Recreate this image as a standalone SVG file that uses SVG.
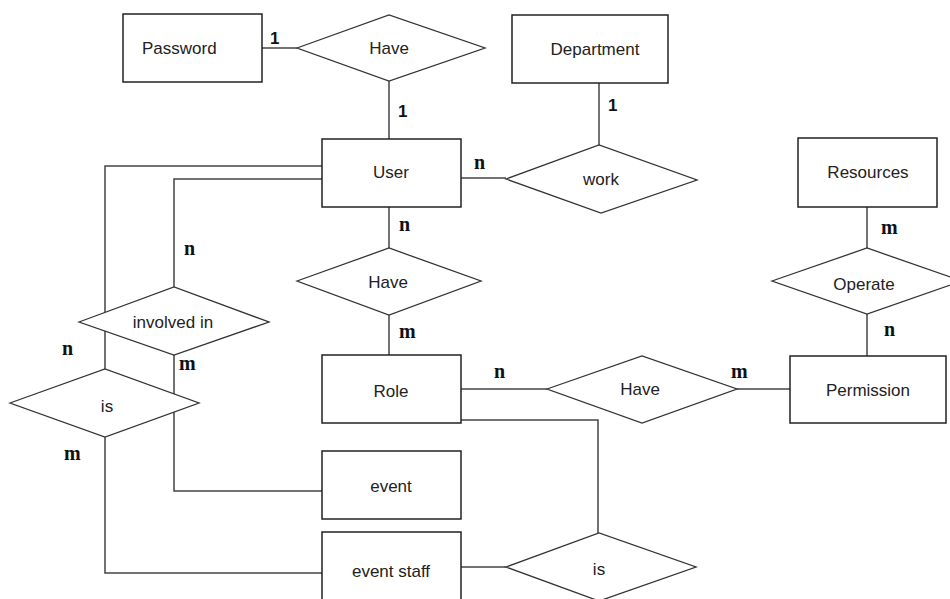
<svg xmlns="http://www.w3.org/2000/svg" width="950" height="599" viewBox="0 0 950 599">
<style>
.bg{fill:#ffffff}
.ent{fill:#ffffff;stroke:#222;stroke-width:1.5}
.rel{fill:#ffffff;stroke:#333;stroke-width:1.3}
.ln{fill:none;stroke:#444;stroke-width:1.5}
.t{font-family:"Liberation Sans",Arial,sans-serif;font-size:17px;fill:#222;text-anchor:middle}
.one{font-family:"Liberation Sans",Arial,sans-serif;font-size:17px;font-weight:bold;fill:#111}
.card{font-family:"Liberation Serif","Times New Roman",serif;font-size:20px;font-weight:bold;fill:#111}
</style>
<rect class="bg" x="0" y="0" width="950" height="599"/>
<g id="connectors">
<polyline class="ln" points="262,48 297,48"/>
<polyline class="ln" points="389,81 389,139"/>
<polyline class="ln" points="599,83 599,145"/>
<polyline class="ln" points="461,178 506,178"/>
<polyline class="ln" points="389,207 389,248"/>
<polyline class="ln" points="389,315 389,355"/>
<polyline class="ln" points="461,389 547,389"/>
<polyline class="ln" points="737,389 790,389"/>
<polyline class="ln" points="867,207 867,248"/>
<polyline class="ln" points="867,314 867,356"/>
<polyline class="ln" points="461,420 598,420 598,533"/>
<polyline class="ln" points="461,567 506,567"/>
<polyline class="ln" points="322,166 105,166 105,369"/>
<polyline class="ln" points="322,179 174,179 174,287"/>
<polyline class="ln" points="174,355 174,491 322,491"/>
<polyline class="ln" points="105,437 105,573 322,573"/>
</g>
<g id="password"><rect class="ent" x="123" y="14" width="139" height="68"/><text class="t" x="142" y="54" style="text-anchor:start">Password</text></g>
<g id="have1"><polygon class="rel" points="297,48 389,15 485,48 389,81"/><text class="t" x="389" y="54">Have</text></g>
<g id="department"><rect class="ent" x="512" y="15" width="156" height="68"/><text class="t" x="595" y="55">Department</text></g>
<g id="user"><rect class="ent" x="322" y="139" width="139" height="68"/><text class="t" x="391" y="178">User</text></g>
<g id="work"><polygon class="rel" points="506,179 599,145 697,180 601,213"/><text class="t" x="601" y="185">work</text></g>
<g id="have2"><polygon class="rel" points="297,281 389,248 481,281 389,315"/><text class="t" x="388" y="288">Have</text></g>
<g id="resources"><rect class="ent" x="798" y="138" width="139" height="69"/><text class="t" x="868" y="178">Resources</text></g>
<g id="operate"><polygon class="rel" points="772,281 867,248 962,281 867,314"/><text class="t" x="864" y="290">Operate</text></g>
<g id="role"><rect class="ent" x="322" y="355" width="139" height="68"/><text class="t" x="391" y="397">Role</text></g>
<g id="have3"><polygon class="rel" points="547,389 642,356 737,389 642,423"/><text class="t" x="640" y="395">Have</text></g>
<g id="permission"><rect class="ent" x="790" y="356" width="156" height="67"/><text class="t" x="868" y="396">Permission</text></g>
<g id="involved"><polygon class="rel" points="79,322 174,287 269,322 174,355"/><text class="t" x="173" y="328">involved in</text></g>
<g id="is1"><polygon class="rel" points="10,403 105,369 199,403 105,437"/><text class="t" x="107" y="412">is</text></g>
<g id="event"><rect class="ent" x="322" y="451" width="139" height="68"/><text class="t" x="391" y="492">event</text></g>
<g id="eventstaff"><rect class="ent" x="322" y="532" width="139" height="70"/><text class="t" x="391" y="577">event staff</text></g>
<g id="is2"><polygon class="rel" points="506,567 599,533 696,567 599,601"/><text class="t" x="599" y="575">is</text></g>
<g id="labels">
<text class="one" x="270" y="44">1</text>
<text class="one" x="398" y="117">1</text>
<text class="one" x="608" y="111">1</text>
<text class="card" x="474" y="169">n</text>
<text class="card" x="399" y="231">n</text>
<text class="card" x="399" y="338">m</text>
<text class="card" x="494" y="378">n</text>
<text class="card" x="731" y="378">m</text>
<text class="card" x="881" y="234">m</text>
<text class="card" x="884" y="336">n</text>
<text class="card" x="184" y="255">n</text>
<text class="card" x="62" y="355">n</text>
<text class="card" x="179" y="370">m</text>
<text class="card" x="64" y="460">m</text>
</g>
</svg>
